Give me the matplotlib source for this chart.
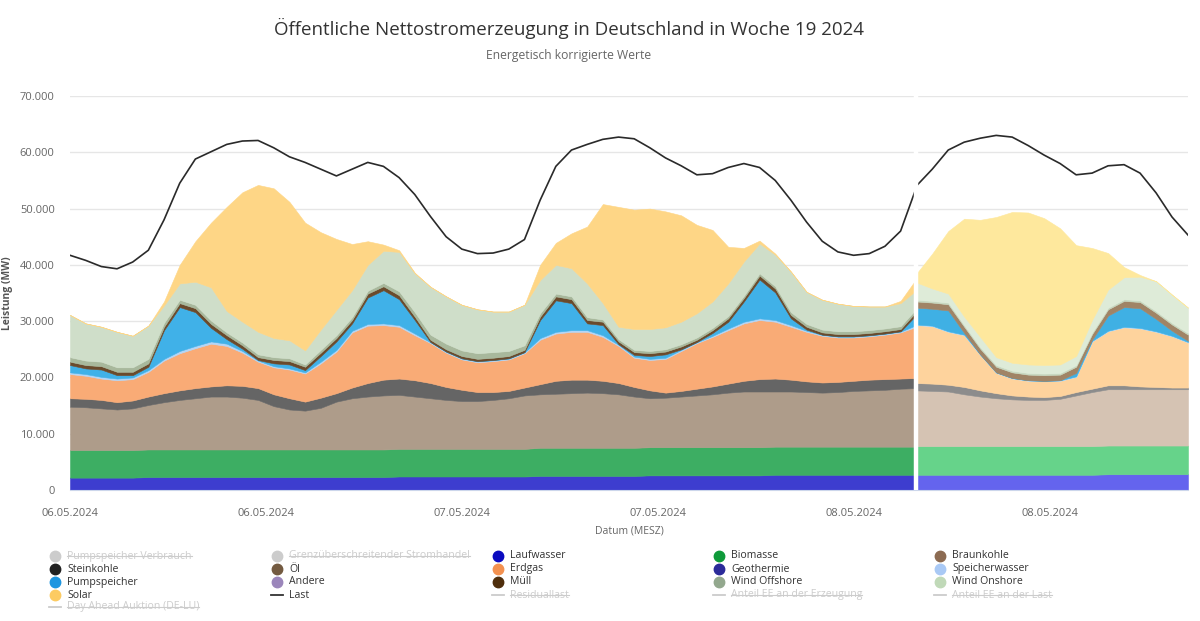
import numpy as np
import matplotlib
matplotlib.use("Agg")
import matplotlib.pyplot as plt
from matplotlib.lines import Line2D
from matplotlib.ticker import FuncFormatter, FixedLocator, NullFormatter

plt.rcParams['font.family'] = ['Open Sans', 'DejaVu Sans']

# ---------------- data (values in 1000 MW) ----------------
# measured part (06.05. 00:00 .. 08.05. ~06:30)
laufwasser = [2.2,2.2,2.2,2.2,2.2,2.3,2.3,2.3,2.3,2.3, 2.3,2.3,2.3,2.3,2.3,2.3,2.3,2.3,2.3,2.3,
              2.3,2.4,2.4,2.4,2.4,2.4,2.4,2.4,2.4,2.4, 2.5,2.5,2.5,2.5,2.5,2.5,2.5,2.6,2.6,2.6,
              2.6,2.6,2.6,2.6,2.6,2.7,2.7,2.7,2.7,2.7, 2.7,2.7,2.7,2.7,2.7]
biomasse = [4.9]*30 + [5.0]*25
braunkohle = [7.7,7.6,7.4,7.2,7.4,7.9,8.4,8.8,9.1,9.4, 9.4,9.2,8.8,7.7,7.1,6.9,7.4,8.5,9.1,9.4,
              9.6,9.6,9.3,9.0,8.7,8.5,8.5,8.7,9.0,9.5, 9.5,9.6,9.7,9.8,9.7,9.5,9.1,8.7,8.8,9.0,
              9.2,9.4,9.7,9.9,9.9,9.8,9.8,9.7,9.6,9.7, 9.9,10.0,10.1,10.3,10.4]
steinkohle = [1.5,1.5,1.5,1.3,1.4,1.5,1.6,1.7,1.8,1.8, 2.0,2.1,2.1,2.1,2.0,1.6,1.8,1.5,1.9,2.4,
              2.8,2.9,2.9,2.7,2.3,2.0,1.6,1.4,1.3,1.4, 1.8,2.3,2.4,2.3,2.2,2.0,1.7,1.4,0.9,1.0,
              1.2,1.4,1.6,1.9,2.2,2.3,2.1,1.9,1.8,1.8, 1.8,1.9,1.9,1.8,1.8]
erdgas = [4.3,4.1,3.8,3.9,3.8,4.4,5.8,6.6,7.1,7.6, 7.0,5.9,4.7,4.8,5.1,5.0,6.1,7.4,9.8,10.2,
          9.7,9.2,8.0,7.1,6.1,5.4,5.3,5.5,5.6,6.1, 7.9,8.4,8.5,8.5,7.8,6.6,5.2,5.4,6.0,7.1,
          8.1,8.8,9.5,10.2,10.5,10.1,9.4,8.8,8.3,7.9, 7.7,7.7,7.9,8.2,9.1]
speicherwasser = [0.3,0.3,0.3,0.3,0.3,0.3,0.3,0.4,0.4,0.4, 0.4,0.3,0.2,0.2,0.2,0.2,0.3,0.3,0.3,0.3,
                  0.3,0.3,0.3,0.15,0.15,0.15,0.15,0.15,0.15,0.15, 0.3,0.3,0.3,0.3,0.3,0.2,0.2,0.2,0.2,0.2,
                  0.15,0.2,0.3,0.3,0.3,0.3,0.3,0.2,0.15,0.15, 0.15,0.15,0.15,0.15,0.3]
pumpspeicher = [1.3,1.0,1.3,0.6,0.4,0.6,5.1,7.8,6.0,2.4, 0.8,0.4,0.1,0.5,0.7,0.4,1.0,1.5,1.3,4.7,
                5.9,4.6,2.4,0.05,0.05,0.05,0.05,0.05,0.05,0.05, 3.2,5.6,4.8,1.2,1.8,0.1,0.3,0.5,0.6,0.1,
                0.05,0.5,1.2,3.6,6.9,4.9,1.2,0.2,0.05,0.05, 0.05,0.05,0.05,0.05,1.8]
muell = [0.6,0.6,0.6,0.6,0.6,0.6,0.6,0.7,0.7,0.7, 0.7,0.6,0.5,0.6,0.6,0.6,0.6,0.6,0.6,0.7,
         0.7,0.7,0.6,0.4,0.4,0.4,0.4,0.4,0.4,0.4, 0.6,0.7,0.7,0.6,0.6,0.5,0.5,0.5,0.5,0.5,
         0.4,0.5,0.6,0.6,0.7,0.7,0.6,0.5,0.4,0.4, 0.4,0.4,0.4,0.4,0.6]
wind_offshore = [0.8,0.8,0.8,0.8,0.8,0.8,0.7,0.6,0.6,0.6, 0.5,0.5,0.5,0.5,0.5,0.4,0.5,0.5,0.5,0.5,
                 0.6,0.7,0.8,0.9,1.0,1.0,1.0,1.0,0.9,0.8, 0.6,0.5,0.5,0.5,0.4,0.4,0.4,0.4,0.4,0.4,
                 0.4,0.4,0.4,0.4,0.4,0.4,0.5,0.5,0.5,0.5, 0.5,0.5,0.5,0.5,0.5]
wind_onshore = [7.5,6.6,6.2,6.3,5.6,5.9,3.1,2.9,4.1,5.9, 3.8,3.7,4.0,3.4,3.2,2.5,3.6,4.5,4.8,4.6,
                5.7,7.0,6.9,8.5,8.4,8.1,7.8,7.2,7.0,7.2, 5.9,5.1,5.0,6.0,2.9,2.2,3.7,3.9,3.9,4.0,
                4.3,4.7,5.8,6.1,5.3,5.6,7.2,5.7,5.3,4.9, 4.5,4.2,3.9,4.1,3.3]
solar = [0,0,0,0,0,0,0.7,3.3,7.2,11.5, 18.5,23.0,26.1,26.6,24.6,22.7,17.3,12.6,8.2,4.2,
         1.1,0.3,0.1,0,0,0,0,0,0,0, 2.7,3.9,6.2,10.1,17.6,21.3,21.2,21.4,20.6,18.9,
         15.7,12.7,6.5,2.4,0.5,0.2,0,0,0,0, 0,0,0,0.4,2.0]
last = [41.7,40.8,39.7,39.3,40.5,42.6,48.0,54.5,58.8,60.1, 61.4,62.0,62.1,60.8,59.2,58.2,57.0,55.8,57.0,58.2,
        57.5,55.5,52.5,48.6,45.0,42.8,42.0,42.1,42.8,44.5, 51.5,57.5,60.4,61.4,62.3,62.7,62.4,60.8,59.0,57.6,
        56.0,56.2,57.3,58.0,57.3,55.0,51.5,47.6,44.2,42.3, 41.7,42.0,43.3,46.0,53.7]

# forecast part (08.05. ~06:30 .. 09.05. 00:00)
laufwasser_fc = [2.7,2.7,2.7,2.7,2.7,2.7,2.7,2.7,2.7,2.7,2.7,2.7,2.8,2.8,2.8,2.8,2.8,2.8]
biomasse_fc = [5.1]*18
braunkohle_fc = [9.9,9.8,9.7,9.2,8.8,8.5,8.3,8.2,8.2,8.4,9.0,9.6,10.0,10.0,10.0,10.0,10.0,10.0]
steinkohle_fc = [1.3,1.3,1.2,1.3,1.1,0.9,0.7,0.6,0.5,0.5,0.6,0.6,0.7,0.7,0.5,0.4,0.3,0.3]
erdgas_fc = [10.3,10.2,9.4,9.2,6.3,3.6,3.0,2.8,2.8,2.7,2.7,8.4,9.6,10.3,10.3,9.8,9.1,8.0]
speicherwasser_fc = [0.1]*18
pumpspeicher_fc = [3.0,3.0,3.7,0.3,0.0,0.0,0.0,0.0,0.0,0.0,0.6,0.2,2.7,3.5,3.5,2.2,0.9,0.2]
muell_fc = [1.1,1.1,1.1,1.1,1.0,1.0,1.0,1.0,1.0,1.0,1.1,1.0,1.1,1.1,1.1,1.1,1.1,1.1]
wind_offshore_fc = [0.3]*18
wind_onshore_fc = [3.1,2.2,1.6,1.5,1.8,1.4,1.4,1.5,1.5,1.5,1.6,2.2,3.2,3.9,4.2,5.3,5.0,4.5]
solar_fc = [1.5,6.2,11.1,17.4,20.8,24.9,26.8,27.0,26.1,24.2,19.7,12.8,6.5,1.8,0.3,0,0,0]
last_fc = [54.0,57.0,60.4,61.8,62.5,63.0,62.7,61.2,59.5,58.0,56.0,56.3,57.6,57.8,56.3,52.8,48.5,45.3]

# time axis (hours since 06.05.2024 00:00)
t_start, t_split, t_end = 0.0, 54.5, 72.0
tick_hours = [0.0, 12.62, 25.24, 37.86, 50.48, 63.1]
tick_labels = ["06.05.2024", "06.05.2024", "07.05.2024", "07.05.2024", "08.05.2024", "08.05.2024"]
y_ticks = [0, 10000, 20000, 30000, 40000, 50000, 60000, 70000]

colors_act = ['#3d3dcf', '#3dae63', '#ae9c8a', '#656565', '#f9ab76', '#b3d5f7',
              '#40b1e8', '#6a4a2c', '#a8b89c', '#cfdec9', '#fed686']
colors_fc = ['#6464ee', '#66d38a', '#d5c3b3', '#8c8c8c', '#fed39d', '#b8daf8',
             '#3fb0e4', '#a08466', '#c8d8c0', '#deebd8', '#fee89d']

# ---------------- figure ----------------
W, H = 1200, 621
fig = plt.figure(figsize=(W / 100, H / 100), dpi=100)
ax = fig.add_axes([70 / W, 1 - 490 / H, 1118 / W, 394 / H])

act = [laufwasser, biomasse, braunkohle, steinkohle, erdgas, speicherwasser,
       pumpspeicher, muell, wind_offshore, wind_onshore, solar]
fc = [laufwasser_fc, biomasse_fc, braunkohle_fc, steinkohle_fc, erdgas_fc, speicherwasser_fc,
      pumpspeicher_fc, muell_fc, wind_offshore_fc, wind_onshore_fc, solar_fc]

t_act = np.linspace(t_start, t_split, len(last))
t_fc = np.linspace(t_split, t_end, len(last_fc))

polys = ax.stackplot(t_act, *[np.array(s) * 1000 for s in act], colors=colors_act, zorder=2)
polys += ax.stackplot(t_fc, *[np.array(s) * 1000 for s in fc], colors=colors_fc, zorder=2)
for p in polys:
    p.set_edgecolor(p.get_facecolor())
    p.set_linewidth(0.4)

ax.plot(t_act, np.array(last) * 1000, color='#2a2a2a', lw=1.2, zorder=4)
ax.plot(t_fc, np.array(last_fc) * 1000, color='#2a2a2a', lw=1.2, zorder=4)
ax.axvline(t_split, color='white', lw=3.2, zorder=6)

ax.set_xlim(t_start, t_end)
ax.set_ylim(0, 70000)
ax.yaxis.set_major_locator(FixedLocator(y_ticks))
ax.yaxis.set_major_formatter(FuncFormatter(lambda v, p: f"{int(round(v)):,}".replace(",", ".")))
ax.xaxis.set_major_locator(FixedLocator(tick_hours))
ax.xaxis.set_major_formatter(NullFormatter())
ax.yaxis.grid(True, color='#e6e6e6', lw=1)
ax.set_axisbelow(True)
for s in ['top', 'right', 'left']:
    ax.spines[s].set_visible(False)
ax.spines['bottom'].set_color('#ccd6eb')
ax.tick_params(axis='both', length=0, labelcolor='#666666', labelsize=8)
ax.tick_params(axis='y', pad=11)

# x tick labels placed at the data positions of the ticks
xt = ax.get_xaxis_transform()
for h, lab in zip(tick_hours, tick_labels):
    ax.text(h, -24 / 394, lab, transform=xt, ha='center', va='center',
            fontsize=8, color='#666666', clip_on=False)
fig.text((70 + 1118 / 2) / W, 1 - 531 / H, "Datum (MESZ)", ha='center', va='center',
         fontsize=7.5, color='#666666')
fig.text(8 / W, 1 - 293 / H, "Leistung (MW)", rotation=90, ha='center', va='center',
         fontsize=7.5, color='#555555', fontweight='bold')

# titles
fig.text(569 / W, 1 - 28 / H, "Öffentliche Nettostromerzeugung in Deutschland in Woche 19 2024",
         ha='center', va='center', fontsize=13.5, color='#333333')
fig.text(569 / W, 1 - 56 / H, "Energetisch korrigierte Werte",
         ha='center', va='center', fontsize=8.7, color='#666666')

# ---------------- legend ----------------
legend_items = [
    ("Pumpspeicher Verbrauch", 'o', '#cccccc', False),
    ("Grenzüberschreitender Stromhandel", 'o', '#cccccc', False),
    ("Laufwasser", 'o', '#0b0bc0', True),
    ("Biomasse", 'o', '#0f9a3a', True),
    ("Braunkohle", 'o', '#8c6b52', True),
    ("Steinkohle", 'o', '#222222', True),
    ("Öl", 'o', '#735a40', True),
    ("Erdgas", 'o', '#f39150', True),
    ("Geothermie", 'o', '#2b2b99', True),
    ("Speicherwasser", 'o', '#a9c9f5', True),
    ("Pumpspeicher", 'o', '#1e96e0', True),
    ("Andere", 'o', '#9b86bb', True),
    ("Müll", 'o', '#4f2e0c', True),
    ("Wind Offshore", 'o', '#93a88e', True),
    ("Wind Onshore", 'o', '#c0d9b8', True),
    ("Solar", 'o', '#fccb62', True),
    ("Last", '-', '#333333', True),
    ("Residuallast", '-', '#cccccc', False),
    ("Anteil EE an der Erzeugung", '-', '#cccccc', False),
    ("Anteil EE an der Last", '-', '#cccccc', False),
    ("Day Ahead Auktion (DE-LU)", '-', '#cccccc', False),
]
to_fig = fig.transFigure.inverted()
col_x = [55, 277, 498, 719, 940]
row_y = [556, 569, 582, 595, 607]
for k, (lab, kind, col, on) in enumerate(legend_items):
    cx = col_x[k % 5]
    cy = row_y[k // 5]
    yf = 1 - cy / H
    if kind == 'o':
        fig.add_artist(Line2D([cx / W], [yf], marker='o', markersize=7.5,
                              color=col, linestyle='none', transform=fig.transFigure))
    else:
        fig.add_artist(Line2D([(cx - 6) / W, (cx + 6) / W], [yf, yf],
                              color=col, lw=1.3, transform=fig.transFigure))
    t = fig.text((cx + 12) / W, yf, lab, ha='left', va='center', fontsize=7.6,
                 color='#333333' if on else '#cccccc')
    if not on:
        fig.canvas.draw()
        bb = t.get_window_extent(fig.canvas.get_renderer())
        x0, _ = to_fig.transform((bb.x0, bb.y0))
        x1, _ = to_fig.transform((bb.x1, bb.y1))
        ys = yf + 0.5 / H
        fig.add_artist(Line2D([x0, x1], [ys, ys], color='#cccccc',
                              lw=0.8, transform=fig.transFigure))

fig.savefig("out.png", dpi=100)
